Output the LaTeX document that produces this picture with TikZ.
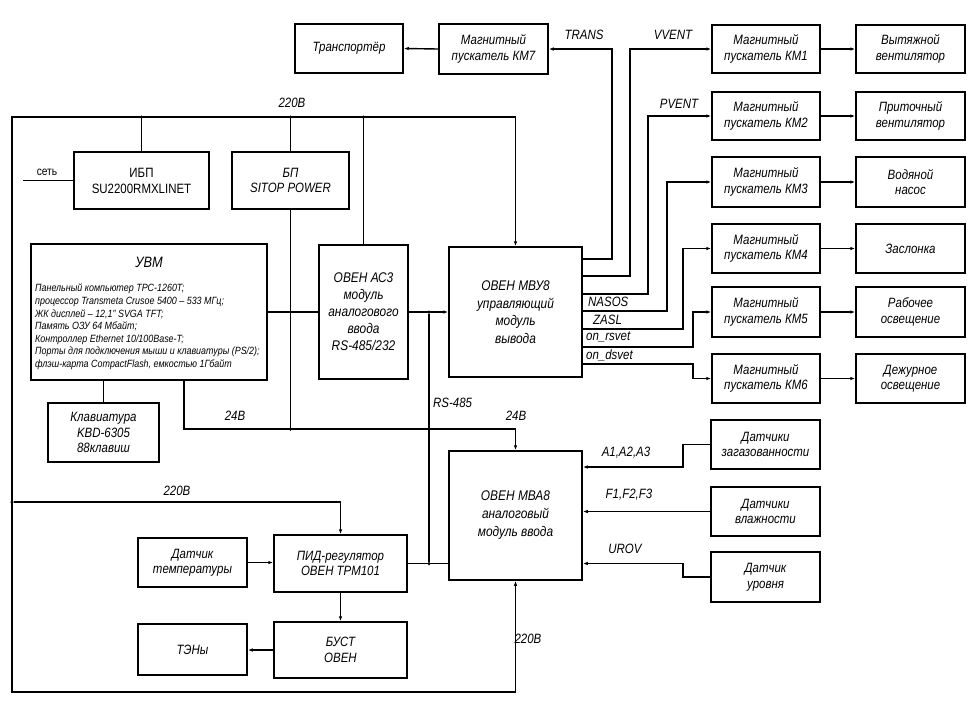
\documentclass[tikz,border=0pt]{standalone}
\usepackage{fontspec}
\setmainfont{Liberation Sans}[FakeStretch=0.85]
\usetikzlibrary{arrows.meta}
\begin{document}
\begin{tikzpicture}[x=1pt,y=-1pt,
  box/.style={draw, line width=1.5pt, align=center, inner sep=1pt, font=\itshape\fontsize{13.5}{15.5}\selectfont},
  lbl/.style={font=\itshape\fontsize{13.5}{15}\selectfont, inner sep=1pt},
  wire/.style={line width=1.4pt},
  arr/.style={wire, -{Latex[length=5pt,width=3.5pt]}},
  jdot/.style={circle, fill, inner sep=0pt, minimum size=3.5pt}]
\useasboundingbox (0,0) rectangle (975,713);

% top row
\node[box, minimum width=108pt, minimum height=49pt] (trans) at (349,48.5) {Транспортёр};
\node[box, minimum width=109pt, minimum height=50pt] (km7) at (493.5,49) {Магнитный\\пускатель КМ7};

% magnetic starters
\node[box, minimum width=108pt, minimum height=48pt] (km1) at (766,49) {Магнитный\\пускатель КМ1};
\node[box, minimum width=108pt, minimum height=48pt] (km2) at (766,116) {Магнитный\\пускатель КМ2};
\node[box, minimum width=108pt, minimum height=50pt] (km3) at (766,182) {Магнитный\\пускатель КМ3};
\node[box, minimum width=108pt, minimum height=49pt] (km4) at (766,248.5) {Магнитный\\пускатель КМ4};
\node[box, minimum width=108pt, minimum height=50pt] (km5) at (766,312) {Магнитный\\пускатель КМ5};
\node[box, minimum width=108pt, minimum height=49pt] (km6) at (766,378.5) {Магнитный\\пускатель КМ6};

% devices
\node[box, minimum width=109pt, minimum height=48pt] (d1) at (910.5,49) {Вытяжной\\вентилятор};
\node[box, minimum width=109pt, minimum height=48pt] (d2) at (910.5,116) {Приточный\\вентилятор};
\node[box, minimum width=109pt, minimum height=50pt] (d3) at (910.5,182) {Водяной\\насос};
\node[box, minimum width=109pt, minimum height=49pt] (d4) at (910.5,248.5) {Заслонка};
\node[box, minimum width=109pt, minimum height=50pt] (d5) at (910.5,312) {Рабочее\\освещение};
\node[box, minimum width=109pt, minimum height=49pt] (d6) at (910.5,378.5) {Дежурное\\освещение};

% power supplies
\node[box, font=\fontsize{13.5}{16}\selectfont, minimum width=135pt, minimum height=57pt] (ibp) at (141.5,180.5) {ИБП\\SU2200RMXLINET};
\node[box, minimum width=117pt, minimum height=57pt] (bp) at (290.5,180.5) {БП\\SITOP POWER};

% UVM
\node[box, minimum width=236pt, minimum height=136pt] (uvm) at (149,312) {};
\node[font=\itshape\fontsize{15}{17}\selectfont] (uvmt) at (149,262) {УВМ};
\node[anchor=north west, align=left, inner sep=0pt, font=\itshape\fontsize{10.5}{12.6}\selectfont] (uvml) at (35,284) {Панельный компьютер TPC-1260T;\\
процессор Transmeta Crusoe 5400 – 533 МГц;\\
ЖК дисплей – 12,1" SVGA TFT;\\
Память ОЗУ 64 Мбайт;\\
Контроллер Ethernet 10/100Base-T;\\
Порты для подключения мыши и клавиатуры (PS/2);\\
флэш-карта CompactFlash, емкостью 1Гбайт};

\node[box, minimum width=111pt, minimum height=59pt] (kbd) at (103.5,432.5) {Клавиатура\\KBD-6305\\88клавиш};

% modules
\node[box, font=\itshape\fontsize{14}{17}\selectfont, minimum width=89pt, minimum height=134pt] (ac3) at (363.5,312) {ОВЕН АС3\\модуль\\аналогового\\ввода\\RS-485/232};
\node[box, font=\itshape\fontsize{14}{17.5}\selectfont, minimum width=133pt, minimum height=130pt] (mbu) at (515.5,312) {ОВЕН МВУ8\\управляющий\\модуль\\вывода};
\node[box, font=\itshape\fontsize{14}{18}\selectfont, minimum width=133pt, minimum height=129pt] (mba) at (515.5,515.5) {ОВЕН МВА8\\аналоговый\\модуль ввода};

% sensors
\node[box, minimum width=109pt, minimum height=49pt] (gaz) at (765.5,444.5) {Датчики\\загазованности};
\node[box, minimum width=109pt, minimum height=49pt] (vlag) at (765.5,511.5) {Датчики\\влажности};
\node[box, minimum width=109pt, minimum height=50pt] (urov) at (765.5,577) {Датчик\\уровня};

% heating
\node[box, minimum width=109pt, minimum height=49pt] (dt) at (192.5,562.5) {Датчик\\температуры};
\node[box, minimum width=133pt, minimum height=57pt] (pid) at (340.5,563.5) {ПИД-регулятор\\ОВЕН ТРМ101};
\node[box, minimum width=133pt, minimum height=56pt] (bust) at (340.5,650) {БУСТ\\ОВЕН};
\node[box, minimum width=109pt, minimum height=51pt] (ten) at (192.5,649.5) {ТЭНы};

% ---- connectors: outputs of MBU8
\draw[arr] (mbu.east |- 0,259) -- (612,259) -- (612,49) -- (km7.east);
\draw[arr] (mbu.east |- 0,276) -- (630,276) -- (630,49) -- (km1.west);
\draw[arr] (mbu.east |- 0,294) -- (648,294) -- (648,116) -- (km2.west);
\draw[arr] (mbu.east |- 0,311) -- (667,311) -- (667,182) -- (km3.west);
\draw[arr] (mbu.east |- 0,329) -- (683,329) -- (683,248.5) -- (km4.west);
\draw[arr] (mbu.east |- 0,347) -- (693,347) -- (693,312) -- (km5.west);
\draw[arr] (mbu.east |- 0,364) -- (693,364) -- (693,378.5) -- (km6.west);

\draw[arr] (km7.west) -- (trans.east);
\draw[arr] (km1.east) -- (d1.west);
\draw[arr] (km2.east) -- (d2.west);
\draw[arr] (km3.east) -- (d3.west);
\draw[arr] (km4.east) -- (d4.west);
\draw[arr] (km5.east) -- (d5.west);
\draw[arr] (km6.east) -- (d6.west);

% ---- 220V bus
\draw[wire] (mbu.north |- 0,117) -- (12,117) -- (12,692) -- (mba.south |- 0,692);
\draw[arr] (mba.south |- 0,692) -- (mba.south);
\draw[arr] (mbu.north |- 0,117) -- (mbu.north);
\draw[wire] (ibp.north |- 0,117) -- (ibp.north);
\draw[wire] (bp.north |- 0,117) -- (bp.north);
\draw[wire] (ac3.north |- 0,117) -- (ac3.north);
\node[jdot] (j1) at (ibp.north |- 0,117) {};
\node[jdot] (j2) at (bp.north |- 0,117) {};
\node[jdot] (j3) at (ac3.north |- 0,117) {};
\coordinate (net) at (23,180.5);
\draw[wire] (net) -- (ibp.west);
\node[jdot] (j4) at (12,502) {};
\draw[arr] (j4) -- (pid.north |- 0,502) -- (pid.north);

% ---- 24V bus
\draw[wire] (uvm.south -| 184,0) -- (184,429) -- (mba.north |- 0,429);
\draw[arr] (mba.north |- 0,429) -- (mba.north);
\draw[wire] (bp.south) -- (bp.south |- 0,429);
\node[jdot] (j5) at (bp.south |- 0,429) {};

% ---- data
\draw[wire] (kbd.north) -- (kbd.north |- uvm.south);
\draw[wire] (uvm.east) -- (ac3.west);
\draw[arr] (ac3.east) -- (mbu.west);
\node[jdot] (j6) at (429,312) {};
\node[jdot] (j7) at (429,563.5) {};
\draw[wire] (j6) -- (j7);
\draw[wire] (pid.east) -- (pid.east -| mba.west);

% ---- sensors
\draw[arr] (gaz.west) -- (683,444.5) -- (683,467) -- (mba.east |- 0,467);
\draw[arr] (vlag.west) -- (vlag.west -| mba.east);
\draw[arr] (urov.west) -- (683,577) -- (683,563.5) -- (mba.east |- 0,563.5);

% ---- heating
\draw[arr] (dt.east) -- (dt.east -| pid.west);
\draw[arr] (pid.south) -- (bust.north);
\draw[arr] (bust.west) -- (bust.west -| ten.east);

% ---- labels
\node[lbl] (lT) at (584,35) {TRANS};
\node[lbl] (lV) at (673,35) {VVENT};
\node[lbl] (lP) at (679,104) {PVENT};
\node[lbl, anchor=west] (lN) at (587,302) {NASOS};
\node[lbl, anchor=west] (lZ) at (592,320) {ZASL};
\node[lbl, anchor=west] (lR) at (585,337) {on\_rsvet};
\node[lbl, anchor=west] (lD) at (585,355) {on\_dsvet};
\node[lbl] (l220a) at (292,103) {220В};
\node[lbl, font=\fontsize{12}{14}\selectfont] (lnet) at (47,172) {сеть};
\node[lbl] (l24a) at (235,416) {24В};
\node[lbl] (l24b) at (516,416) {24В};
\node[lbl, anchor=west] (lrs) at (432,403) {RS-485};
\node[lbl] (l220b) at (177,491) {220В};
\node[lbl] (l220c) at (528,639) {220В};
\node[lbl] (lA) at (626,453) {A1,A2,A3};
\node[lbl] (lF) at (629,495) {F1,F2,F3};
\node[lbl] (lU) at (625,549) {UROV};
\end{tikzpicture}
\end{document}
